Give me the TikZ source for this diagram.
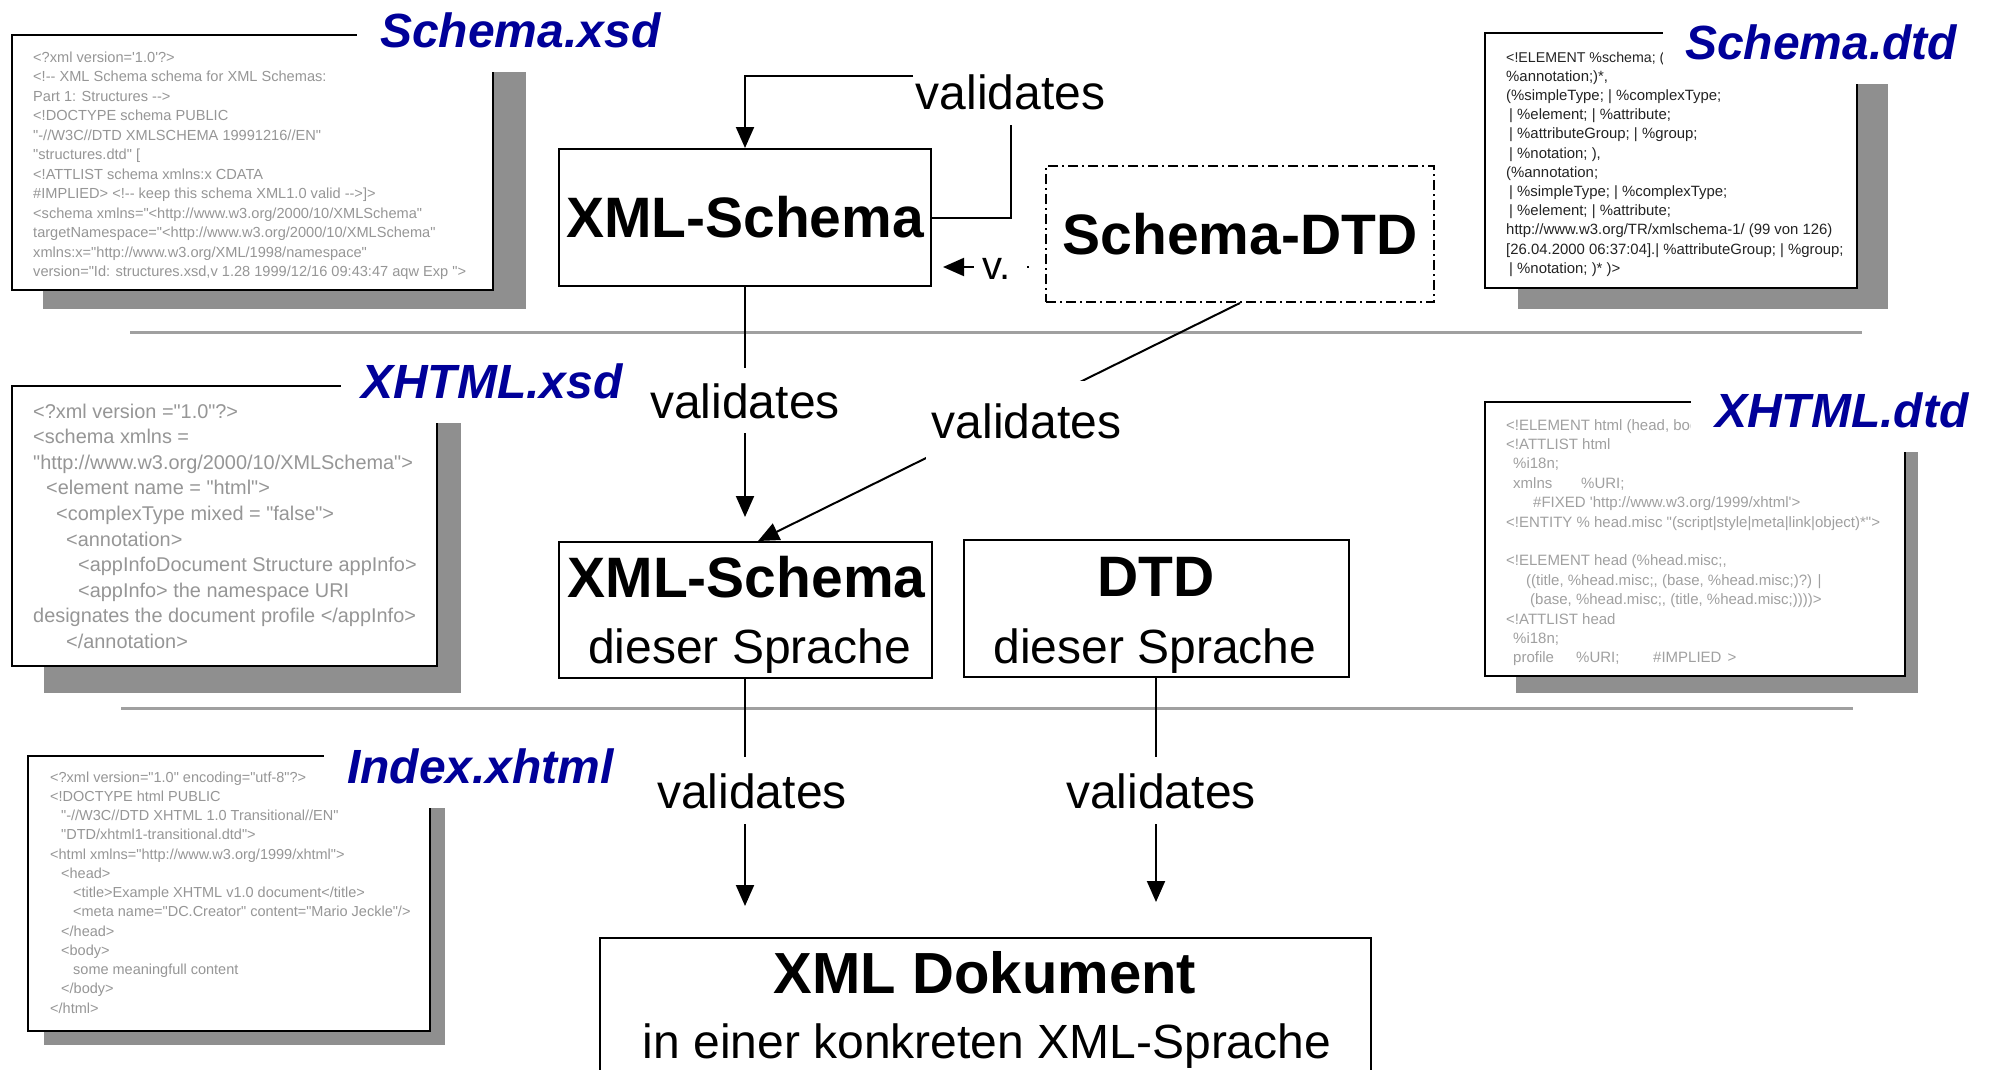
\documentclass[tikz,border=0pt]{standalone}
\usepackage{fontspec}
\newfontfamily\sansf{Liberation Sans}
\usetikzlibrary{arrows.meta}
\definecolor{ttlblue}{RGB}{0,0,153}
\definecolor{codegray}{RGB}{150,150,150}
\definecolor{codedark}{RGB}{35,35,35}
\definecolor{codelight}{RGB}{160,160,160}
\definecolor{shadowgray}{RGB}{143,143,143}
\definecolor{sepgray}{RGB}{160,160,160}
\newcommand\codeln[2][0]{\hbox{\hskip#1pt\relax#2}}
\tikzset{
  code/.style={inner sep=0pt, anchor=base west, font=\sansf},
  ttl/.style={font=\sansf\bfseries\itshape\fontsize{48pt}{58pt}\selectfont, text=ttlblue, inner sep=0pt, anchor=base west},
  cbox/.style={draw=black, line width=2.5pt, fill=white},
  shade/.style={fill=shadowgray},
  cover/.style={fill=white},
  sepline/.style={draw=sepgray, line width=3pt},
  gbox/.style={draw=black, line width=2pt, fill=white, inner sep=0pt},
  bigtxt/.style={font=\sansf\bfseries\fontsize{57pt}{68pt}\selectfont, inner sep=0pt},
  midtxt/.style={font=\sansf\fontsize{48pt}{58pt}\selectfont, inner sep=0pt},
  lbl/.style={font=\sansf\fontsize{48pt}{58pt}\selectfont, inner xsep=6pt, inner ysep=15pt},
  conn/.style={draw=black, line width=2pt},
  arr/.style={-{Triangle[length=21pt,width=18pt]}},
  dashdot/.style={dash pattern=on 10pt off 4pt on 2pt off 4pt}
}
\begin{document}
\begin{tikzpicture}[x=1pt,y=-1pt]
\useasboundingbox (0,0) rectangle (1993,1069);
\fill[white] (0,0) rectangle (1993,1069);

% separators
\draw[sepline] (130,332) -- (1862,332);
\draw[sepline] (121,708) -- (1853,708);

% ---------- Schema.xsd ----------
\fill[shade] (43,54) rectangle (526,309);
\draw[cbox] (12,35) rectangle (493,290);
\node[code, text=codegray] (xsdcode) at (33,62) {\vtop{\fontsize{14.6pt}{19.5pt}\selectfont
\codeln{<?xml version='1.0'?>}
\codeln{<!-- XML Schema schema for XML Schemas:}
\codeln{Part 1: Structures -->}
\codeln{<!DOCTYPE schema PUBLIC}
\codeln{"-//W3C//DTD XMLSCHEMA 19991216//EN"}
\codeln{"structures.dtd" [}
\codeln{<!ATTLIST schema xmlns:x CDATA}
\codeln{\#IMPLIED> <!-- keep this schema XML1.0 valid -->]>}
\codeln{<schema xmlns="<http://www.w3.org/2000/10/XMLSchema"}
\codeln{targetNamespace="<http://www.w3.org/2000/10/XMLSchema"}
\codeln{xmlns:x="http://www.w3.org/XML/1998/namespace"}
\codeln{version="Id: structures.xsd,v 1.28 1999/12/16 09:43:47 aqw Exp ">}}};
\fill[cover] (357,0) rectangle (530,72);
\node[ttl] (xsdtitle) at (380,47) {Schema.xsd};

% ---------- Schema.dtd ----------
\fill[shade] (1518,52) rectangle (1888,309);
\draw[cbox] (1485,33) rectangle (1857,288);
\node[code, text=codedark, font=\sansf\fontsize{14.2pt}{19.2pt}\selectfont] (dtdcode1) at (1506,62) {<!ELEMENT \%schema; ((\%};
\node[code, text=codedark] (dtdcode) at (1506,81.2) {\vtop{\fontsize{14.9pt}{19.2pt}\selectfont
\codeln{\%annotation;)*,}
\codeln{(\%simpleType; | \%complexType;}
\codeln[3]{| \%element; | \%attribute;}
\codeln[3]{| \%attributeGroup; | \%group;}
\codeln[3]{| \%notation; ),}
\codeln{(\%annotation;}
\codeln[3]{| \%simpleType; | \%complexType;}
\codeln[3]{| \%element; | \%attribute;}
\codeln{http://www.w3.org/TR/xmlschema-1/ (99 von 126)}
\codeln{[26.04.2000 06:37:04].| \%attributeGroup; | \%group;}
\codeln[3]{| \%notation; )* )>}}};
\fill[cover] (1663,0) rectangle (1893,84);
\node[ttl] (dtdtitle) at (1685,59) {Schema.dtd};

% ---------- XHTML.xsd ----------
\fill[shade] (44,405) rectangle (461,693);
\draw[cbox] (12,386) rectangle (437,666);
\node[code, text=codegray] (xhxsdcode) at (33,418) {\vtop{\fontsize{19.9pt}{25.6pt}\selectfont
\codeln{<?xml version ="1.0"?>}
\codeln{<schema xmlns =}
\codeln{"http://www.w3.org/2000/10/XMLSchema">}
\codeln[13]{<element name = "html">}
\codeln[23]{<complexType mixed = "false">}
\codeln[33]{<annotation>}
\codeln[45]{<appInfoDocument Structure appInfo>}
\codeln[45]{<appInfo> the namespace URI}
\codeln{designates the document profile </appInfo>}
\codeln[33]{</annotation>}}};
\fill[cover] (341,345) rectangle (466,423);
\node[ttl] (xhxsdtitle) at (361,398) {XHTML.xsd};

% ---------- XHTML.dtd ----------
\fill[shade] (1516,421) rectangle (1918,693);
\draw[cbox] (1485,402) rectangle (1905,676);
\node[code, text=codelight, font=\sansf\fontsize{15pt}{19.4pt}\selectfont] (xhdtdcode1) at (1506,430) {<!ELEMENT html (head, body};
\node[code, text=codelight] (xhdtdcode) at (1506,449.4) {\vtop{\fontsize{15pt}{19.4pt}\selectfont
\codeln{<!ATTLIST html}
\codeln[7]{\%i18n;}
\codeln[7]{\makebox[68pt][l]{xmlns}\%URI;}
\codeln[27]{\#FIXED 'http://www.w3.org/1999/xhtml'>}
\codeln{<!ENTITY \% head.misc "(script|style|meta|link|object)*">}
\codeln{}
\codeln{<!ELEMENT head (\%head.misc;,}
\codeln[20]{((title, \%head.misc;, (base, \%head.misc;)?) |}
\codeln[24]{(base, \%head.misc;, (title, \%head.misc;))))>}
\codeln{<!ATTLIST head}
\codeln[7]{\%i18n;}
\codeln[7]{\makebox[63pt][l]{profile}\makebox[77pt][l]{\%URI;}\#IMPLIED\hspace{6pt}>}}};
\fill[cover] (1691,345) rectangle (1923,452);
\node[ttl] (xhdtdtitle) at (1715,427) {XHTML.dtd};

% ---------- Index.xhtml ----------
\fill[shade] (44,775) rectangle (445,1045);
\draw[cbox] (28,756) rectangle (430,1031);
\node[code, text=codegray] (idxcode) at (50,782) {\vtop{\fontsize{14.5pt}{19.25pt}\selectfont
\codeln{<?xml version="1.0" encoding="utf-8"?>}
\codeln{<!DOCTYPE html PUBLIC}
\codeln[11]{"-//W3C//DTD XHTML 1.0 Transitional//EN"}
\codeln[11]{"DTD/xhtml1-transitional.dtd">}
\codeln{<html xmlns="http://www.w3.org/1999/xhtml">}
\codeln[11]{<head>}
\codeln[23]{<title>Example XHTML v1.0 document</title>}
\codeln[23]{<meta name="DC.Creator" content="Mario Jeckle"/>}
\codeln[11]{</head>}
\codeln[11]{<body>}
\codeln[23]{some meaningfull content}
\codeln[11]{</body>}
\codeln{</html>}}};
\fill[cover] (324,720) rectangle (450,808);
\node[ttl] (idxtitle) at (347,783) {Index.xhtml};

% ---------- graph ----------
\node[gbox, bigtxt, draw=black, line width=2pt, minimum width=372pt, minimum height=137pt] (xs1) at (745,217.5) {XML-Schema};
\node[gbox, bigtxt, draw=black, line width=2pt, dashdot, minimum width=388pt, minimum height=136pt] (sd) at (1240,234) {Schema-DTD};
\node[gbox, minimum width=373pt, minimum height=136pt] (xs2) at (745,610) {};
\node[bigtxt, anchor=base] (xs2a) at (746.5,597) {XML-Schema};
\node[midtxt, anchor=base] (xs2b) at (749.5,663) {dieser Sprache};
\node[gbox, minimum width=385pt, minimum height=137pt] (dtd) at (1156,608.5) {};
\node[bigtxt, anchor=base] (dtda) at (1156,596) {DTD};
\node[midtxt, anchor=base] (dtdb) at (1155,663) {dieser Sprache};
\node[gbox, minimum width=771pt, minimum height=170pt] (xd) at (985.5,1023) {};
\node[font=\sansf\bfseries\fontsize{58pt}{70pt}\selectfont, inner sep=0pt, anchor=base] (xda) at (985,993) {XML Dokument};
\node[midtxt, anchor=base] (xdb) at (987,1058) {in einer konkreten XML-Sprache};

% self-validation loop
\node[lbl, anchor=base] (lv1) at (1010.5,109) {validates};
\coordinate (c1) at (913,76);
\draw[conn] (xs1.east) -| (lv1.south);
\draw[conn, arr] (c1) -| (xs1.north);

% v. connector
\draw[conn, arr, dash pattern=on 0pt off 16pt on 2pt off 14pt on 100pt off 0pt, shorten >=11pt]
  ([yshift=-33pt]sd.west) -- ([yshift=-33pt]sd.west -| xs1.east);
\node[font=\sansf\fontsize{40pt}{48pt}\selectfont, fill=white, inner xsep=9pt, inner ysep=4pt, anchor=base] (lv6) at (997,279) {v.};

% validates connectors
\draw[conn, arr, shorten >=24pt] (xs1.south) -- (xs2.north);
\draw[conn, arr] (sd.south) -- ([xshift=13pt]xs2.north);
\draw[conn, arr, shorten >=31pt] (xs2.south) -- (xs2.south |- xd.north);
\draw[conn, arr, shorten >=35pt] (dtd.south) -- (dtd.south |- xd.north);

\node[lbl, fill=white, anchor=base] (lv2) at (745,418) {validates};
\node[lbl, fill=white, inner ysep=22pt, anchor=base] (lv3) at (1026.5,438) {validates};
\node[lbl, fill=white, inner ysep=16pt, anchor=base] (lv4) at (752,808) {validates};
\node[lbl, fill=white, inner ysep=16pt, anchor=base] (lv5) at (1161,808) {validates};
\end{tikzpicture}
\end{document}
